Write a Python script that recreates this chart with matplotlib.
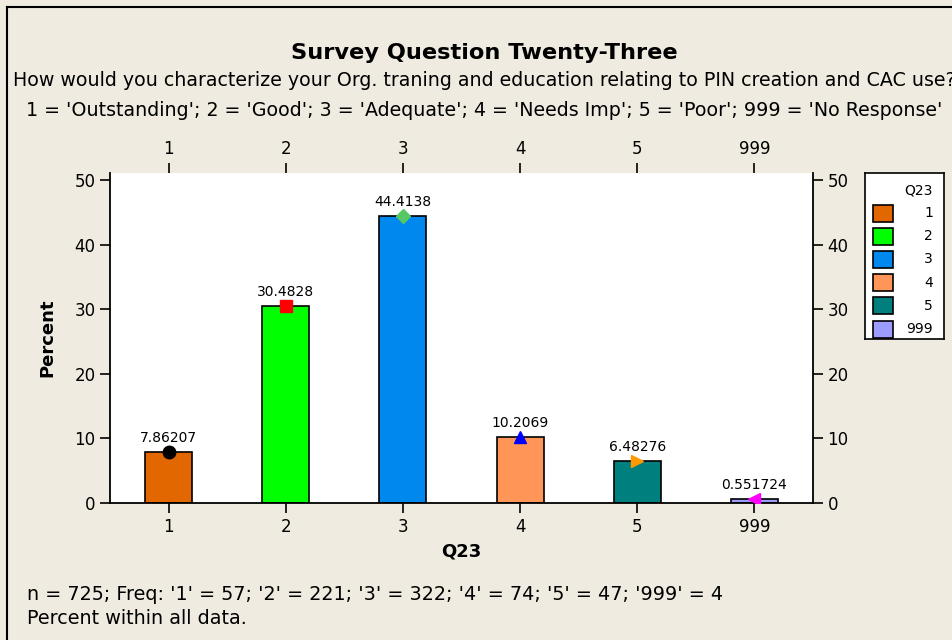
import matplotlib
matplotlib.use("Agg")
import matplotlib.pyplot as plt
from matplotlib.patches import Rectangle
from matplotlib.lines import Line2D

categories = ['1', '2', '3', '4', '5', '999']
percent = [7.86207, 30.4828, 44.4138, 10.2069, 6.48276, 0.551724]
value_labels = ['7.86207', '30.4828', '44.4138', '10.2069', '6.48276', '0.551724']
freqs = [57, 221, 322, 74, 47, 4]
n_total = 725
bar_colors = ['#E36700', '#00FF00', '#0088EE', '#FF9657', '#007F7F', '#9C9CFF']
marker_styles = ['o', 's', 'D', '^', '>', '<']
marker_colors = ['#000000', '#FF0000', '#55C864', '#0000FF', '#FF9900', '#FF00FF']

BG = '#EFEBE0'
W, H = 952, 640
fig = plt.figure(figsize=(W / 100, H / 100), dpi=100, facecolor=BG)
plt.rcParams['font.family'] = ['DejaVu Sans']

def fx(px):
    return px / W

def fy(py):
    return 1 - py / H

# figure frame lines (left & top)
fig.add_artist(Line2D([fx(7), fx(7)], [0, fy(7)], color='black', lw=1.5, transform=fig.transFigure))
fig.add_artist(Line2D([fx(7), 1], [fy(7), fy(7)], color='black', lw=1.5, transform=fig.transFigure))

ax = fig.add_axes([fx(110), fy(503), fx(813) - fx(110), fy(173) - fy(503)])
ax.set_facecolor('white')
x = list(range(1, len(categories) + 1))
ax.bar(x, percent, width=0.4, color=bar_colors, edgecolor='black', linewidth=1.2, zorder=2)
for xi, v, m, mc, lab in zip(x, percent, marker_styles, marker_colors, value_labels):
    ax.plot([xi], [v], marker=m, color=mc, markersize=9 if m != 'D' else 7.5, zorder=3, linestyle='none')
    ax.annotate(lab, (xi, v), xytext=(0, 5), textcoords='offset points', ha='center', va='bottom', fontsize=10)

ax.set_xlim(0.5, len(categories) + 0.5)
ax.set_ylim(0, 51.1)
ax.set_xticks(x)
ax.set_xticklabels(categories)
ax.set_yticks([0, 10, 20, 30, 40, 50])
ax.tick_params(axis='both', labelsize=12, length=7, width=1.2, direction='out',
               top=True, labeltop=True, right=True, labelright=True)
for s in ['left', 'right', 'bottom']:
    ax.spines[s].set_linewidth(1.3)
ax.spines['top'].set_visible(False)
ax.set_xlabel('Q23', fontsize=13, fontweight='bold', labelpad=5)
ax.set_ylabel('Percent', fontsize=13, fontweight='bold', labelpad=13)

fig.text(fx(484), fy(53), 'Survey Question Twenty-Three', ha='center', va='center', fontsize=16.2, fontweight='bold')
fig.text(fx(484), fy(81), 'How would you characterize your Org. traning and education relating to PIN creation and CAC use?',
         ha='center', va='center', fontsize=13.7)
fig.text(fx(484), fy(110), "1 = 'Outstanding'; 2 = 'Good'; 3 = 'Adequate'; 4 = 'Needs Imp'; 5 = 'Poor'; 999 = 'No Response'",
         ha='center', va='center', fontsize=13.7)

freq_str = '; '.join(f"'{c}' = {f}" for c, f in zip(categories, freqs))
fig.text(fx(27), fy(594), f"n = {n_total}; Freq: {freq_str}", ha='left', va='center', fontsize=13.8)
fig.text(fx(27), fy(619), 'Percent within all data.', ha='left', va='center', fontsize=13.8)

# legend box
L, R, T, B = 865, 944, 173, 339
lax = fig.add_axes([fx(L), fy(B), fx(R) - fx(L), fy(T) - fy(B)])
lax.set_xlim(L, R)
lax.set_ylim(B, T)
lax.set_xticks([])
lax.set_yticks([])
lax.set_facecolor('white')
for s in lax.spines.values():
    s.set_linewidth(1.2)
lax.text(933, 190, 'Q23', ha='right', va='center', fontsize=10)
for i, (c, col) in enumerate(zip(categories, bar_colors)):
    yc = 213 + i * 23.2
    lax.add_patch(Rectangle((873, yc - 8.5), 20, 17, facecolor=col, edgecolor='black', lw=1.2))
    lax.text(933, yc, c, ha='right', va='center', fontsize=10)

fig.savefig('out.png', dpi=100, facecolor=BG)
